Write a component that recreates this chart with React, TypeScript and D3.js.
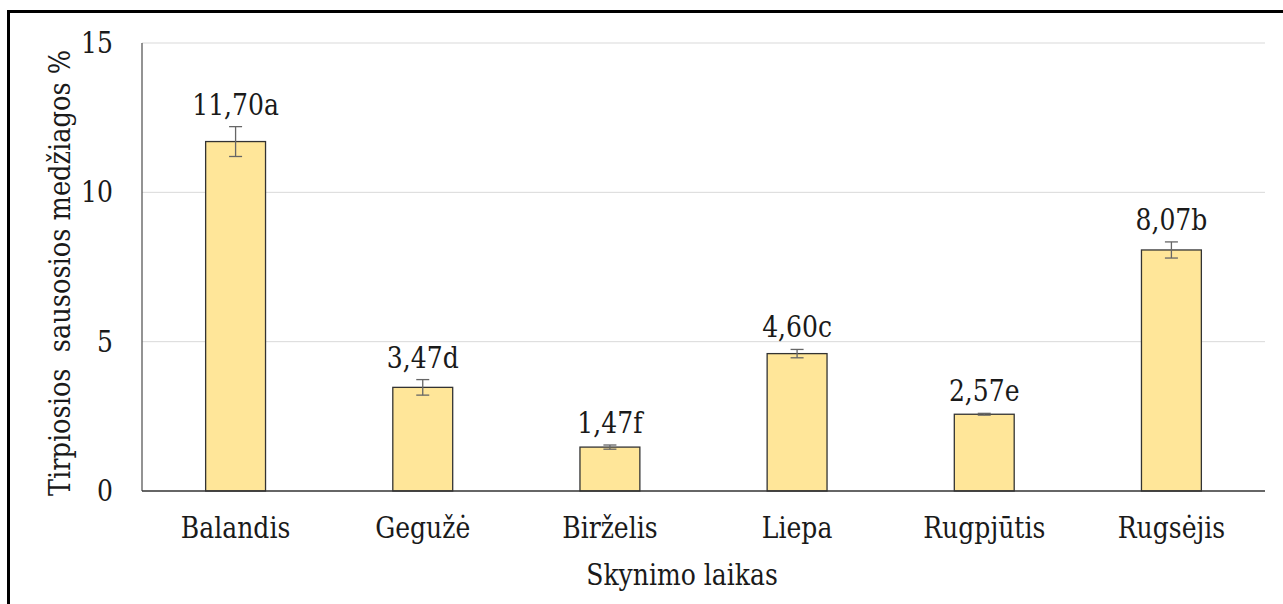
import React from "react";
import * as d3 from "d3";

const categories = ["Balandis", "Gegužė", "Birželis", "Liepa", "Rugpjūtis", "Rugsėjis"];
const values = [11.7, 3.47, 1.47, 4.6, 2.57, 8.07];
const errors = [0.5, 0.26, 0.07, 0.14, 0.03, 0.27];
const valueLabels = ["11,70a", "3,47d", "1,47f", "4,60c", "2,57e", "8,07b"];
const yTicks = [0, 5, 10, 15];

const FONT = "DejaVu Serif, Liberation Serif, Times New Roman, serif";
const SX = 0.865;

function T(props: { x: number; y: number; anchor?: string; rotate?: number; children: React.ReactNode; sx?: number }) {
  const { x, y, anchor = "middle", rotate = 0, children, sx = SX } = props;
  return (
    <text
      transform={`translate(${x},${y}) rotate(${rotate}) scale(${sx},1)`}
      textAnchor={anchor}
      fontFamily={FONT}
      fontSize={29}
      fill="#1a1a1a"
      style={{ whiteSpace: "pre" }}
    >
      {children}
    </text>
  );
}

export default function App() {
  const W = 1283, H = 604;
  const left = 142, right = 1265, top = 43, bottom = 491;
  const x = d3.scaleBand<string>().domain(categories).range([left, right]).paddingInner(0.68).paddingOuter(0.34);
  const y = d3.scaleLinear().domain([0, 15]).range([bottom, top]);
  const bw = x.bandwidth();
  return (
    <svg width={W} height={H} style={{ position: "absolute", left: 0, top: 0, background: "#fff" }}>
      <rect x={8.5} y={11.5} width={1300} height={650} fill="none" stroke="#000" strokeWidth={3} />
      {yTicks.map((t) => (
        <g key={t}>
          {t > 0 && <line x1={left} x2={right} y1={y(t)} y2={y(t)} stroke="#d9d9d9" strokeWidth={1} />}
          <T x={113} y={y(t) + 10} anchor="end">{String(t)}</T>
        </g>
      ))}
      <line x1={left} x2={left} y1={top} y2={bottom} stroke="#595959" strokeWidth={1.3} />
      {categories.map((c, i) => {
        const x0 = x(c)!;
        const cx = x0 + bw / 2;
        const ePlus = y(values[i] + errors[i]);
        const eMinus = y(values[i] - errors[i]);
        return (
          <g key={c}>
            <rect x={x0} y={y(values[i])} width={bw} height={bottom - y(values[i])} fill="#FFE699" stroke="#333" strokeWidth={1.3} />
            <line x1={cx} x2={cx} y1={ePlus} y2={eMinus} stroke="#666" strokeWidth={1.3} />
            <line x1={cx - 6.5} x2={cx + 6.5} y1={ePlus} y2={ePlus} stroke="#666" strokeWidth={1.3} />
            <line x1={cx - 6.5} x2={cx + 6.5} y1={eMinus} y2={eMinus} stroke="#666" strokeWidth={1.3} />
            <T x={cx} y={ePlus - 12}>{valueLabels[i]}</T>
            <T x={cx} y={538}>{c}</T>
          </g>
        );
      })}
      <line x1={left} x2={right} y1={bottom} y2={bottom} stroke="#333" strokeWidth={1.3} />
      <T x={682} y={585}>Skynimo laikas</T>
      <T x={70} y={273} rotate={-90} sx={0.885}>{"Tirpiosios  sausosios medžiagos %"}</T>
    </svg>
  );
}
